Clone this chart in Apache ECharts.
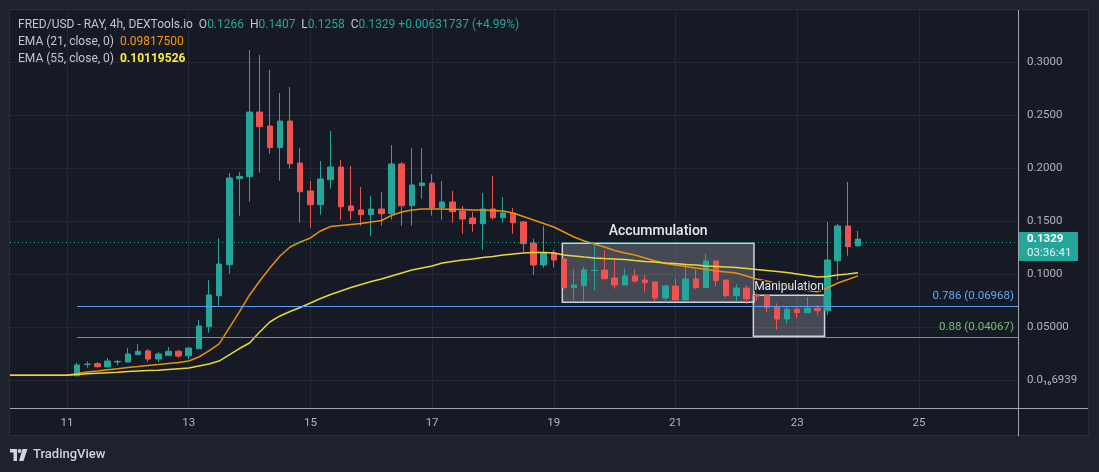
<!DOCTYPE html>
<html>
<head>
<meta charset="UTF-8">
<title>FRED/USD - RAY, 4h</title>
<script src="https://cdn.jsdelivr.net/npm/echarts@6/dist/echarts.min.js"></script>
<style>
  html, body { margin: 0; padding: 0; background: #161a25; }
  #chart { width: 1099px; height: 472px; }
</style>
</head>
<body>
<div id="chart"></div>
<script>
// 4h candles as [open, close, low, high], first candle at day 11 04:00
var candleStart = 11 + 4 / 24;
var step = 4 / 24;
var candles = [
  [0.0040, 0.0142, 0.0040, 0.0163], [0.0146, 0.0150, 0.0116, 0.0176], [0.0154, 0.0125, 0.0116, 0.0170],
  [0.0123, 0.0179, 0.0123, 0.0208], [0.0170, 0.0175, 0.0139, 0.0192], [0.0170, 0.0245, 0.0170, 0.0302],
  [0.0239, 0.0271, 0.0239, 0.0340], [0.0274, 0.0198, 0.0173, 0.0292], [0.0198, 0.0245, 0.0170, 0.0264],
  [0.0233, 0.0271, 0.0233, 0.0311], [0.0271, 0.0226, 0.0210, 0.0286], [0.0229, 0.0302, 0.0198, 0.0302],
  [0.0295, 0.0509, 0.0295, 0.0566], [0.0503, 0.0802, 0.0446, 0.0943], [0.0795, 0.1094, 0.0701, 0.1337],
  [0.1088, 0.1906, 0.1003, 0.1953], [0.1899, 0.1921, 0.1550, 0.1962], [0.1918, 0.2528, 0.1682, 0.3113],
  [0.2528, 0.2390, 0.1956, 0.3066], [0.2396, 0.2192, 0.2135, 0.2925], [0.2192, 0.2443, 0.1880, 0.2708],
  [0.2443, 0.2041, 0.1993, 0.2764], [0.2047, 0.1776, 0.1484, 0.2189], [0.1783, 0.1654, 0.1437, 0.1877],
  [0.1654, 0.1896, 0.1560, 0.2066], [0.1890, 0.2009, 0.1805, 0.2349], [0.2009, 0.1635, 0.1509, 0.2075],
  [0.1642, 0.1597, 0.1509, 0.2019], [0.1604, 0.1560, 0.1456, 0.1821], [0.1560, 0.1613, 0.1361, 0.1736],
  [0.1613, 0.1569, 0.1456, 0.1774], [0.1569, 0.2038, 0.1512, 0.2217], [0.2038, 0.1644, 0.1456, 0.2057],
  [0.1644, 0.1840, 0.1456, 0.2189], [0.1834, 0.1858, 0.1710, 0.2189], [0.1858, 0.1626, 0.1550, 0.1943],
  [0.1626, 0.1679, 0.1512, 0.1877], [0.1679, 0.1588, 0.1484, 0.1783], [0.1594, 0.1519, 0.1380, 0.1642],
  [0.1528, 0.1475, 0.1399, 0.1585], [0.1475, 0.1613, 0.1229, 0.1764], [0.1613, 0.1531, 0.1512, 0.1925],
  [0.1531, 0.1575, 0.1484, 0.1726], [0.1575, 0.1484, 0.1380, 0.1623], [0.1491, 0.1286, 0.1210, 0.1500],
  [0.1292, 0.1085, 0.0990, 0.1333], [0.1085, 0.1201, 0.1059, 0.1453], [0.1201, 0.1132, 0.1063, 0.1226],
  [0.1142, 0.0871, 0.0860, 0.1150], [0.0871, 0.0896, 0.0755, 0.1047], [0.0890, 0.1038, 0.0748, 0.1069],
  [0.1032, 0.1035, 0.0843, 0.1274], [0.1038, 0.0956, 0.0950, 0.1220], [0.0962, 0.0896, 0.0862, 0.1151],
  [0.0896, 0.0981, 0.0896, 0.1050], [0.0981, 0.0934, 0.0918, 0.1047], [0.0943, 0.0918, 0.0833, 0.0991],
  [0.0925, 0.0774, 0.0745, 0.0925], [0.0774, 0.0887, 0.0730, 0.0899], [0.0887, 0.0755, 0.0755, 0.0959],
  [0.0755, 0.0953, 0.0755, 0.1101], [0.0953, 0.0871, 0.0858, 0.1044], [0.0871, 0.1123, 0.0871, 0.1189],
  [0.1123, 0.0937, 0.0887, 0.1123], [0.0943, 0.0796, 0.0777, 0.0943], [0.0796, 0.0868, 0.0748, 0.0906],
  [0.0868, 0.0765, 0.0714, 0.0896], [0.0796, 0.0792, 0.0748, 0.0818], [0.0796, 0.0686, 0.0644, 0.0802],
  [0.0686, 0.0575, 0.0475, 0.0723], [0.0575, 0.0667, 0.0531, 0.0692], [0.0667, 0.0635, 0.0588, 0.0686],
  [0.0635, 0.0676, 0.0635, 0.0783], [0.0676, 0.0654, 0.0607, 0.0708], [0.0654, 0.1132, 0.0613, 0.1491],
  [0.1125, 0.1453, 0.0946, 0.1472], [0.1453, 0.1258, 0.1173, 0.1868], [0.1266, 0.1329, 0.1258, 0.1407]
];

// EMA values, one per 4h step, starting at day 10 00:00
var emaStart = 10;
var ema21 = [
  0.0044, 0.0044, 0.0044, 0.0044, 0.0044, 0.0044, 0.0044,
  0.0061, 0.0075, 0.0085, 0.0096, 0.0107, 0.0118, 0.0127, 0.0137, 0.0146, 0.0156, 0.0165, 0.0179,
  0.0217, 0.0274, 0.0340, 0.0491, 0.0642, 0.0802, 0.0934, 0.1057, 0.1170, 0.1255, 0.1302, 0.1340,
  0.1406, 0.1448, 0.1458, 0.1467, 0.1476, 0.1491, 0.1505, 0.1552, 0.1585, 0.1604, 0.1613, 0.1613,
  0.1613, 0.1608, 0.1608, 0.1604, 0.1604, 0.1599, 0.1594, 0.1575, 0.1542, 0.1509, 0.1476, 0.1443,
  0.1396, 0.1349, 0.1311, 0.1283, 0.1255, 0.1222, 0.1198, 0.1179, 0.1151, 0.1123, 0.1099, 0.1085,
  0.1071, 0.1057, 0.1044, 0.1028, 0.1019, 0.1009, 0.0981, 0.0953, 0.0934, 0.0910, 0.0887, 0.0863,
  0.0844, 0.0833, 0.0868, 0.0915, 0.0948, 0.0982
];
var ema55 = [
  0.0044, 0.0044, 0.0044, 0.0044, 0.0044, 0.0044, 0.0044,
  0.0052, 0.0058, 0.0063, 0.0068, 0.0073, 0.0079, 0.0085, 0.0089, 0.0092, 0.0099, 0.0106, 0.0113,
  0.0132, 0.0151, 0.0179, 0.0236, 0.0297, 0.0349, 0.0453, 0.0547, 0.0604, 0.0646, 0.0684, 0.0726,
  0.0769, 0.0807, 0.0840, 0.0873, 0.0901, 0.0929, 0.0953, 0.0981, 0.1009, 0.1038, 0.1057, 0.1075,
  0.1104, 0.1118, 0.1132, 0.1142, 0.1156, 0.1165, 0.1179, 0.1189, 0.1198, 0.1203, 0.1203, 0.1198,
  0.1179, 0.1170, 0.1160, 0.1151, 0.1146, 0.1142, 0.1137, 0.1127, 0.1118, 0.1113, 0.1104, 0.1099,
  0.1090, 0.1085, 0.1075, 0.1071, 0.1066, 0.1061, 0.1052, 0.1042, 0.1033, 0.1024, 0.1014, 0.1000,
  0.0986, 0.0972, 0.0976, 0.0991, 0.1000, 0.1012
];

var xTicks = [11, 13, 15, 17, 19, 21, 23, 25];
var yTicks = [0, 0.05, 0.1, 0.15, 0.2, 0.25, 0.3];
var yTickLabels = ['0.0\u2081\u20866939', '0.05000', '0.1000', '0.1500', '0.2000', '0.2500', '0.3000'];

var fibValues = [0.06968, 0.04067];
var fibLabels = ['0.786 (0.06968)', '0.88 (0.04067)'];

var zoneNames = ['Accummulation', 'Manipulation'];
var zoneX = [[19.14, 22.29], [22.28, 23.45]];
var zoneY = [[0.0733, 0.1290], [0.0412, 0.0799]];

var lastClose = 0.1329;
var countdown = '03:36:41';

// ---------------------------------------------------------------
var FONT = 'Roboto, "Noto Sans", sans-serif';
var UP = '#26a69a', DOWN = '#ef5350';
var TEXT = '#b2b5be';
var X_MIN = 10.0633, X_MAX = 26.629;
var Y_MIN = -0.02642, Y_MAX = 0.34906;
var fibColors = ['#5b9cf6', '#4caf50'];
var fibTextColors = ['#64a8f7', '#6fbf73'];

var chart = echarts.init(document.getElementById('chart'));

var candleData = candles.map(function (c, k) {
  return [candleStart + k * step, c[0], c[1], c[2], c[3]];
});
var ema21Data = ema21.map(function (v, k) { return [emaStart + k * step, v]; });
var ema55Data = ema55.map(function (v, k) { return [emaStart + k * step, v]; });

var fibLines = fibValues.map(function (v, i) {
  return [
    { coord: [candleStart, v], lineStyle: { color: fibColors[i], width: 1, type: 'solid' },
      label: { show: true, formatter: fibLabels[i], position: 'insideEndTop', color: fibTextColors[i],
        fontFamily: FONT, fontSize: 11.5, distance: [4, 4] } },
    { coord: [X_MAX, v] }
  ];
});

var zoneFills = zoneNames.map(function (n, i) {
  return [{ coord: [zoneX[i][0], zoneY[i][1]] }, { coord: [zoneX[i][1], zoneY[i][0]] }];
});
var zoneLabels = zoneNames.map(function (n, i) {
  var big = i === 0;
  return [
    { name: n, coord: [zoneX[i][0], zoneY[i][1]],
      label: { show: true, position: 'top', distance: big ? 5 : 2, color: '#e8e9ed',
        fontFamily: FONT, fontSize: big ? 14 : 12, fontWeight: big ? 500 : 'normal',
        textBorderColor: '#161a25', textBorderWidth: big ? 0 : 2 } },
    { coord: [zoneX[i][1], zoneY[i][0]] }
  ];
});

var option = {
  backgroundColor: '#161a25',
  animation: false,
  grid: { left: 10, right: 81, top: 10, bottom: 64 },
  xAxis: {
    type: 'value', min: X_MIN, max: X_MAX,
    axisLine: { show: true, onZero: false, lineStyle: { color: '#a3a6af', width: 1 } },
    axisTick: { show: false, customValues: xTicks },
    splitLine: { show: true, lineStyle: { color: '#242835', width: 1 } },
    axisLabel: {
      customValues: xTicks, color: TEXT, fontFamily: FONT, fontSize: 11.5, margin: 9,
      formatter: function (v) { return String(Math.round(v)); }
    }
  },
  yAxis: {
    type: 'value', position: 'right', min: Y_MIN, max: Y_MAX, scale: true,
    axisLine: { show: true, lineStyle: { color: '#a3a6af', width: 1 } },
    axisTick: { show: false, customValues: yTicks },
    splitLine: { show: true, lineStyle: { color: '#242835', width: 1 } },
    axisLabel: {
      customValues: yTicks, color: TEXT, fontFamily: FONT, fontSize: 11.5, margin: 9, align: 'left',
      formatter: function (v) {
        for (var i = 0; i < yTicks.length; i++) {
          if (Math.abs(yTicks[i] - v) < 1e-9) return yTickLabels[i];
        }
        return '';
      }
    }
  },
  series: [
    {
      name: 'FRED/USD', type: 'candlestick', data: candleData,
      encode: { x: 0, y: [1, 2, 3, 4] },
      barWidth: 6,
      itemStyle: { color: UP, color0: DOWN, borderColor: UP, borderColor0: DOWN, borderWidth: 1 },
      markArea: {
        silent: true,
        itemStyle: { color: 'rgba(205,207,215,0.26)', borderColor: '#d0d2d8', borderWidth: 1.5 },
        label: { show: false },
        data: zoneFills
      },
      markLine: {
        silent: true, symbol: 'none',
        lineStyle: { color: UP, width: 1, type: [1, 3] },
        label: { show: false },
        data: [{ yAxis: lastClose }]
      }
    },
    {
      name: 'EMA 21', type: 'line', data: ema21Data, showSymbol: false, symbol: 'none',
      lineStyle: { color: '#e8900c', width: 1.5 }, z: 3,
      markLine: { silent: true, symbol: 'none', data: fibLines },
      markArea: {
        silent: true, z: 10,
        itemStyle: { color: 'rgba(0,0,0,0)', borderWidth: 0 },
        data: zoneLabels
      }
    },
    {
      name: 'EMA 55', type: 'line', data: ema55Data, showSymbol: false, symbol: 'none',
      lineStyle: { color: '#e9d63c', width: 1.5 }, z: 3
    }
  ]
};

chart.setOption(option);

// price tag on the price scale, placed from the last close
var py = chart.convertToPixel({ yAxisIndex: 0 }, lastClose);
var frame = '#1e222d';
var LEG = '12px ' + FONT;

chart.setOption({
  graphic: [
    { type: 'rect', z: 100, shape: { x: 0, y: 436, width: 1099, height: 36 }, style: { fill: frame } },
    { type: 'rect', z: 100, shape: { x: 0, y: 0, width: 1099, height: 9 }, style: { fill: frame } },
    { type: 'rect', z: 100, shape: { x: 0, y: 0, width: 9, height: 472 }, style: { fill: frame } },
    { type: 'rect', z: 100, shape: { x: 1089, y: 0, width: 10, height: 472 }, style: { fill: frame } },
    { type: 'rect', z: 100, shape: { x: 9.5, y: 9.5, width: 1079, height: 426 },
      style: { fill: 'none', stroke: '#2a2e39', lineWidth: 1 } },
    { type: 'line', z: 100, shape: { x1: 1018.5, y1: 10, x2: 1018.5, y2: 436 },
      style: { stroke: '#a3a6af', lineWidth: 1 } },
    { type: 'line', z: 100, shape: { x1: 1018, y1: 408.5, x2: 1088, y2: 408.5 },
      style: { stroke: '#a3a6af', lineWidth: 1 } },
    // legend
    { type: 'text', z: 101, x: 18, y: 25,
      style: {
        text: '{n|FRED/USD - RAY, 4h, DEXTools.io}  {n|O}{v|0.1266}  {n|H}{v|0.1407}  {n|L}{v|0.1258}  {n|C}{v|0.1329} {v|+0.00631737 (+4.99%)}',
        font: LEG, fill: '#c3c6ce', verticalAlign: 'middle',
        rich: {
          n: { fontSize: 12, fontFamily: FONT, fill: '#c3c6ce' },
          v: { fontSize: 12, fontFamily: FONT, fill: UP }
        }
      } },
    { type: 'text', z: 101, x: 18, y: 42,
      style: {
        text: '{n|EMA (21, close, 0)}  {o|0.09817500}',
        font: LEG, fill: '#c3c6ce', verticalAlign: 'middle',
        rich: {
          n: { fontSize: 12, fontFamily: FONT, fill: '#c3c6ce' },
          o: { fontSize: 12, fontFamily: FONT, fill: '#ff9800' }
        }
      } },
    { type: 'text', z: 101, x: 18, y: 59,
      style: {
        text: '{n|EMA (55, close, 0)}  {o|0.10119526}',
        font: LEG, fill: '#c3c6ce', verticalAlign: 'middle',
        rich: {
          n: { fontSize: 12, fontFamily: FONT, fill: '#c3c6ce' },
          o: { fontSize: 12, fontFamily: FONT, fill: '#ffeb3b', fontWeight: 'bold' }
        }
      } },
    // last price tag
    { type: 'rect', z: 101, shape: { x: 1019, y: Math.round(py) - 7, width: 59, height: 29, r: 1 },
      style: { fill: UP } },
    { type: 'text', z: 102, x: 1027, y: Math.round(py) + 0.5,
      style: { text: String(lastClose), font: 'bold 11.5px ' + FONT, fill: '#ffffff', verticalAlign: 'middle' } },
    { type: 'text', z: 102, x: 1027, y: Math.round(py) + 14,
      style: { text: countdown, font: '11.5px ' + FONT, fill: '#e6f4f2', verticalAlign: 'middle' } },
    // TradingView mark
    { type: 'rect', z: 101, shape: { x: 10, y: 449, width: 7, height: 3.5 }, style: { fill: '#d1d4dc' } },
    { type: 'rect', z: 101, shape: { x: 13.5, y: 449, width: 3.5, height: 12 }, style: { fill: '#d1d4dc' } },
    { type: 'circle', z: 101, shape: { cx: 19.6, cy: 451, r: 1.9 }, style: { fill: '#d1d4dc' } },
    { type: 'polygon', z: 101, shape: { points: [[22.5, 449], [27.5, 449], [23.5, 461], [19, 461]] },
      style: { fill: '#d1d4dc' } },
    { type: 'text', z: 101, x: 33, y: 455,
      style: { text: 'TradingView', font: '500 13px ' + FONT, fill: '#d1d4dc', verticalAlign: 'middle' } }
  ]
});
</script>
</body>
</html>
